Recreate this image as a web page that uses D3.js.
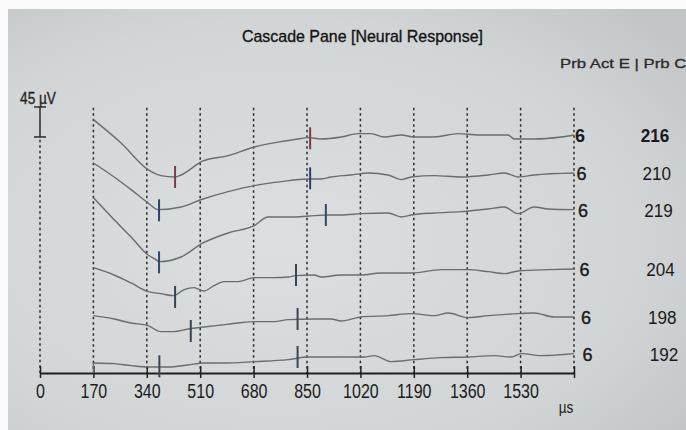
<!DOCTYPE html>
<html>
<head>
<meta charset="utf-8">
<script src="https://cdn.jsdelivr.net/npm/d3@7"></script>
<style>
  html, body { margin: 0; padding: 0; background: #fff; }
  svg { display: block; }
  text { font-family: "Liberation Sans", Arial, sans-serif; }
</style>
</head>
<body>
<div id="chart"></div>
<script>
// time axis (µs)
const gridTimes = [0, 170, 340, 510, 680, 850, 1020, 1190, 1360, 1530, 1700]
const tickLabels = [0, 170, 340, 510, 680, 850, 1020, 1190, 1360, 1530]

// cascade traces, [time µs, amplitude µV]
const trace1 = [[170, 380], [258, 345], [344, 305], [385, 296], [430, 294], [449, 297], [519, 318],
  [599, 326], [682, 339], [767, 347], [822, 351], [853, 353], [895, 351], [959, 354], [1013, 359],
  [1054, 359], [1096, 354], [1150, 357], [1191, 354], [1255, 354], [1331, 359], [1395, 357],
  [1490, 357], [1510, 351], [1573, 351], [1659, 354], [1700, 357]]
const trace2 = [[170, 315], [236, 294], [290, 275], [344, 255], [376, 245], [449, 249], [519, 261],
  [599, 272], [682, 281], [767, 287], [853, 291], [895, 291], [927, 294], [990, 297], [1045, 300],
  [1108, 297], [1150, 290], [1182, 294], [1255, 296], [1341, 294], [1427, 297], [1478, 300],
  [1522, 294], [1573, 297], [1700, 300]]
const trace3 = [[170, 263], [236, 230], [290, 204], [344, 177], [369, 170], [379, 167], [449, 174],
  [519, 195], [599, 210], [682, 221], [726, 234], [809, 234], [873, 236], [917, 237], [959, 237],
  [1022, 239], [1108, 240], [1150, 234], [1182, 237], [1255, 240], [1341, 242], [1427, 246],
  [1478, 249], [1522, 239], [1573, 249], [1618, 246], [1700, 245]]
const trace4 = [[170, 158], [236, 147], [290, 135], [344, 122], [385, 119], [424, 116], [459, 125],
  [490, 128], [522, 123], [554, 131], [586, 137], [631, 137], [682, 143], [745, 143], [790, 144],
  [815, 146], [873, 147], [895, 144], [959, 147], [1022, 147], [1086, 150], [1182, 150],
  [1277, 155], [1363, 155], [1427, 152], [1478, 149], [1522, 153], [1618, 155], [1700, 156]]
const trace5 = [[170, 86], [236, 81], [290, 75], [344, 71], [385, 62], [427, 62], [471, 66],
  [522, 69], [576, 72], [631, 75], [682, 77], [745, 77], [790, 80], [873, 81], [927, 81],
  [959, 78], [1022, 84], [1108, 86], [1182, 89], [1255, 86], [1299, 90], [1363, 83], [1427, 86],
  [1522, 89], [1573, 90], [1637, 84], [1700, 84]]
const trace6 = [[170, 15], [236, 14], [290, 11], [344, 9], [408, 9], [471, 12], [522, 15],
  [586, 15], [682, 17], [790, 20], [853, 24], [917, 24], [1032, 24], [1064, 26], [1118, 17],
  [1191, 20], [1277, 23], [1363, 24], [1446, 26], [1500, 24], [1532, 29], [1596, 26], [1700, 29]]

// latency markers per trace, [time µs, amplitude µV]
const markers = [
  [[430, 294], [860, 352]],
  [[379, 244], [860, 292]],
  [[379, 166], [910, 237]],
  [[430, 114], [815, 147]],
  [[480, 63], [820, 81]],
  [[380, 10], [820, 24]]
]
const sweepCounts = ['6', '6', '6', '6', '6', '6']
const stimLevels = ['216', '210', '219', '204', '198', '192']
const scaleBarUV = 45

const traces = [trace1, trace2, trace3, trace4, trace5, trace6]
const markerColors = ['#7b3c48', '#2f3f6e', '#33466e', '#3a4552', '#3a4552', '#3a4552']

const width = 686
const height = 430

const svg = d3.select('#chart').append('svg')
  .attr('width', width)
  .attr('height', height)

// photographed screen background
const defs = svg.append('defs')
const grad = defs.append('radialGradient')
  .attr('id', 'screen')
  .attr('cx', '40%').attr('cy', '55%').attr('r', '75%')
grad.append('stop').attr('offset', '0%').attr('stop-color', '#dcdfdf')
grad.append('stop').attr('offset', '70%').attr('stop-color', '#d1d5d5')
grad.append('stop').attr('offset', '100%').attr('stop-color', '#c2c6c7')

svg.append('rect').attr('width', width).attr('height', height).attr('fill', '#fafafa')
svg.append('rect')
  .attr('x', 8).attr('y', 9)
  .attr('width', width - 8).attr('height', height - 9)
  .attr('fill', 'url(#screen)')

const x = d3.scaleLinear().domain([0, 1700]).range([40, 574])
const y = d3.scaleLinear().domain([0, 400]).range([373, 106.3])

// dashed grid
svg.append('g')
  .selectAll('line')
  .data(gridTimes)
  .enter().append('line')
  .attr('x1', d => x(d))
  .attr('x2', d => x(d))
  .attr('y1', d => d === 0 ? y(350) : y(398))
  .attr('y2', y(0))
  .attr('stroke', '#2a2b2c')
  .attr('stroke-width', 1.5)
  .attr('stroke-dasharray', '2.5,3')

// x axis
const axis = svg.append('g')
  .attr('transform', `translate(0,${y(0)})`)
  .call(d3.axisBottom(x)
    .tickValues(gridTimes)
    .tickFormat(d => tickLabels.includes(d) ? d : '')
    .tickSizeOuter(0)
    .tickSize(0)
    .tickPadding(11))
axis.select('.domain').attr('stroke', '#1f2020').attr('stroke-width', 2)
axis.selectAll('.tick line')
  .attr('y1', -7).attr('y2', 5)
  .attr('stroke', '#1f2020').attr('stroke-width', 1.5)
axis.selectAll('.tick text')
  .attr('fill', '#1c1c1c')
  .attr('transform', 'scale(0.8,1)')
  .style('font-size', '20px')
  .style('font-family', '"Liberation Sans", Arial, sans-serif')

svg.append('text')
  .attr('transform', 'translate(566,413) scale(0.85,1)')
  .attr('text-anchor', 'middle')
  .attr('fill', '#222')
  .style('font-size', '16px')
  .text('µs')

// scale bar
const barTop = y(399)
const barBottom = y(399 - scaleBarUV)
const bar = svg.append('g').attr('stroke', '#2a2a2a').attr('stroke-width', 1.5)
bar.append('line').attr('x1', x(0)).attr('x2', x(0)).attr('y1', barTop).attr('y2', barBottom)
bar.append('line').attr('x1', x(0) - 6).attr('x2', x(0) + 6).attr('y1', barTop).attr('y2', barTop)
bar.append('line').attr('x1', x(0) - 6).attr('x2', x(0) + 6).attr('y1', barBottom).attr('y2', barBottom)
svg.append('text')
  .attr('transform', 'translate(38,104) scale(0.85,1)')
  .attr('text-anchor', 'middle')
  .attr('fill', '#1e1e1e')
  .attr('stroke', '#1e1e1e').attr('stroke-width', 0.3)
  .style('font-size', '16px')
  .text(`${scaleBarUV} µV`)

// traces
const line = d3.line()
  .x(d => x(d[0]))
  .y(d => y(d[1]))
  .curve(d3.curveMonotoneX)

svg.append('g')
  .selectAll('path')
  .data(traces)
  .enter().append('path')
  .attr('d', line)
  .attr('fill', 'none')
  .attr('stroke', '#6a6d70')
  .attr('stroke-width', 1.4)

// trace 6 rises from the axis at its start
svg.append('line')
  .attr('x1', x(trace6[0][0])).attr('x2', x(trace6[0][0]))
  .attr('y1', y(0)).attr('y2', y(trace6[0][1]))
  .attr('stroke', '#6a6d70').attr('stroke-width', 1.4)

// latency markers
markers.forEach((pair, i) => {
  svg.append('g')
    .selectAll('line')
    .data(pair)
    .enter().append('line')
    .attr('x1', d => x(d[0]))
    .attr('x2', d => x(d[0]))
    .attr('y1', d => y(d[1]) - 11)
    .attr('y2', d => y(d[1]) + 11)
    .attr('stroke', markerColors[i])
    .attr('stroke-width', 2)
})

// right labels
const rightEnd = traces.map(t => t[t.length - 1][1])
svg.append('g')
  .selectAll('text')
  .data(sweepCounts)
  .enter().append('text')
  .attr('x', (d, i) => 575 + i * 1.5)
  .attr('y', (d, i) => y(rightEnd[i]) + 7)
  .attr('fill', '#1a1a1a')
  .attr('stroke', '#1a1a1a')
  .attr('stroke-width', (d, i) => i === 0 ? 0 : 0.4)
  .style('font-size', '18px')
  .style('font-weight', (d, i) => i === 0 ? 'bold' : 'normal')
  .text(d => d)

svg.append('g')
  .selectAll('text')
  .data(stimLevels)
  .enter().append('text')
  .attr('transform', (d, i) => `translate(${655 + i * 1.8},${y(rightEnd[i]) + 7}) scale(0.95,1.05)`)
  .attr('text-anchor', 'middle')
  .attr('fill', '#1a1a1a')
  .style('font-size', '18px')
  .style('font-weight', (d, i) => i === 0 ? 'bold' : 'normal')
  .text(d => d)

// titles
svg.append('text')
  .attr('x', 242).attr('y', 42)
  .attr('textLength', 241)
  .attr('lengthAdjust', 'spacingAndGlyphs')
  .attr('fill', '#141414')
  .attr('stroke', '#141414').attr('stroke-width', 0.35)
  .style('font-size', '17px')
  .text('Cascade Pane [Neural Response]')

svg.append('text')
  .attr('x', 560).attr('y', 68)
  .attr('textLength', 130)
  .attr('lengthAdjust', 'spacingAndGlyphs')
  .attr('fill', '#2a2a2a')
  .attr('stroke', '#2a2a2a').attr('stroke-width', 0.3)
  .style('font-size', '13px')
  .text('Prb Act E | Prb Cl')
</script>
</body>
</html>
